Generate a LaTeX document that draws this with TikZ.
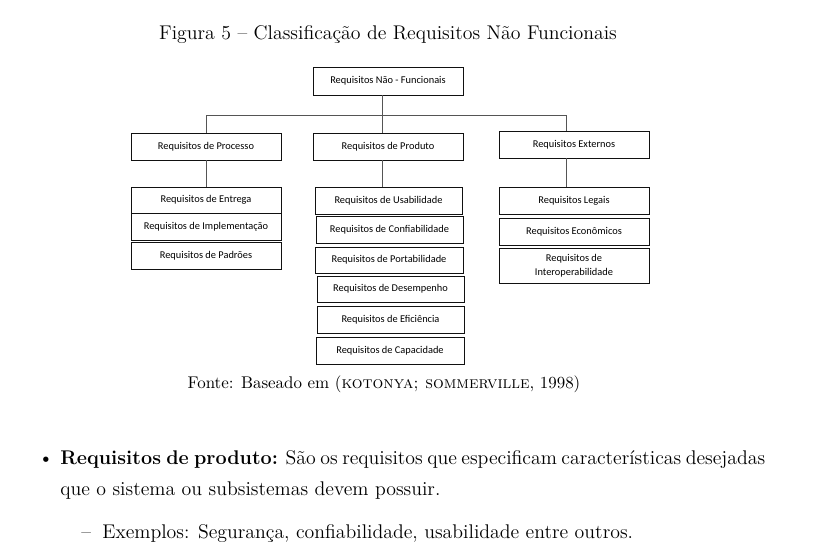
\documentclass[tikz,border=0pt]{standalone}
\usepackage{fontspec}
\newfontfamily\calibri{Carlito}
\usepackage{tikz}
\usetikzlibrary{calc}
\definecolor{ink}{HTML}{111111}
\definecolor{wire}{HTML}{555555}
\newcommand{\pxl}[1]{#1*0.022cm}
\tikzset{
  box/.style={draw=ink, line width=0.6pt, minimum width=\pxl{150}, minimum height=\pxl{27},
    inner sep=0pt, align=center, font=\calibri\fontsize{6.5}{8.5}\selectfont},
  wire/.style={draw=wire, line width=0.6pt},
  txt/.style={anchor=base west, inner sep=0pt, font=\fontsize{12.4}{15}\selectfont},
  src/.style={anchor=base, inner sep=0pt, font=\fontsize{10.6}{13}\selectfont},
}

\begin{document}
\begin{tikzpicture}[x=0.022cm, y=-0.022cm]
  \useasboundingbox (0,0) rectangle (827,555);

  \node[txt, anchor=base] (cap) at (388,40) {Figura 5 -- Classificação de Requisitos Não Funcionais};

  % tree
  \node[box, minimum height=\pxl{28}] (nf) at (388,81) {Requisitos Não - Funcionais};
  \node[box] (proc) at (206,146.5) {Requisitos de Processo};
  \node[box] (prod) at (388,146.5) {Requisitos de Produto};
  \node[box] (ext) at (574,144.5) {Requisitos Externos};
  \coordinate (bar) at (382,115);
  \coordinate (extj) at (566,115);
  \draw[wire] (nf.south -| bar) -- (prod.north -| bar);
  \draw[wire] (proc.north) |- (extj) -- (ext.north -| extj);

  % processo
  \node[box, minimum height=\pxl{26}] (entr) at (206,200) {Requisitos de Entrega};
  \node[box] (impl) at (206,226.5) {Requisitos de Implementação};
  \node[box] (padr) at (206,255.5) {Requisitos de Padrões};
  \draw[wire] (proc.south) -- (entr.north);

  % produto
  \node[box, minimum width=\pxl{147}] (usab) at (388.5,200.5) {Requisitos de Usabilidade};
  \node[box, minimum width=\pxl{147}] (conf) at (389.5,229.5) {Requisitos de Confiabilidade};
  \node[box, minimum width=\pxl{148}, minimum height=\pxl{26}] (port) at (389,260) {Requisitos de Portabilidade};
  \node[box, minimum width=\pxl{147}, minimum height=\pxl{26}] (desp) at (390.5,289) {Requisitos de Desempenho};
  \node[box, minimum width=\pxl{147}] (efic) at (390.5,319.5) {Requisitos de Eficiência};
  \node[box, minimum width=\pxl{148}] (capc) at (390,351) {Requisitos de Capacidade};
  \draw[wire] (prod.south -| bar) -- (usab.north -| bar);

  % externos
  \node[box] (legl) at (574,200.5) {Requisitos Legais};
  \node[box] (econ) at (574,231.5) {Requisitos Econômicos};
  \node[box, minimum height=\pxl{35}] (intr) at (574,266) {Requisitos de\\Interoperabilidade};
  \draw[wire] (ext.south -| extj) -- (legl.north -| extj);

  \node[src] (fonte) at (384,389) {Fonte: Baseado em (\textsc{kotonya; sommerville}, 1998)};

  % texto
  \node[txt] (dot) at (38,464) {\textbullet};
  \node[txt] (b1) at (60,464) {\makebox[15.51cm][s]{\textbf{Requisitos de produto:} São os requisitos que especificam características desejadas}};
  \node[txt] (b2) at (60,495) {que o sistema ou subsistemas devem possuir.};
  \node[txt] (dash) at (81,538) {--};
  \node[txt] (ex) at (102,538) {Exemplos: Segurança, confiabilidade, usabilidade entre outros.};
\end{tikzpicture}
\end{document}
